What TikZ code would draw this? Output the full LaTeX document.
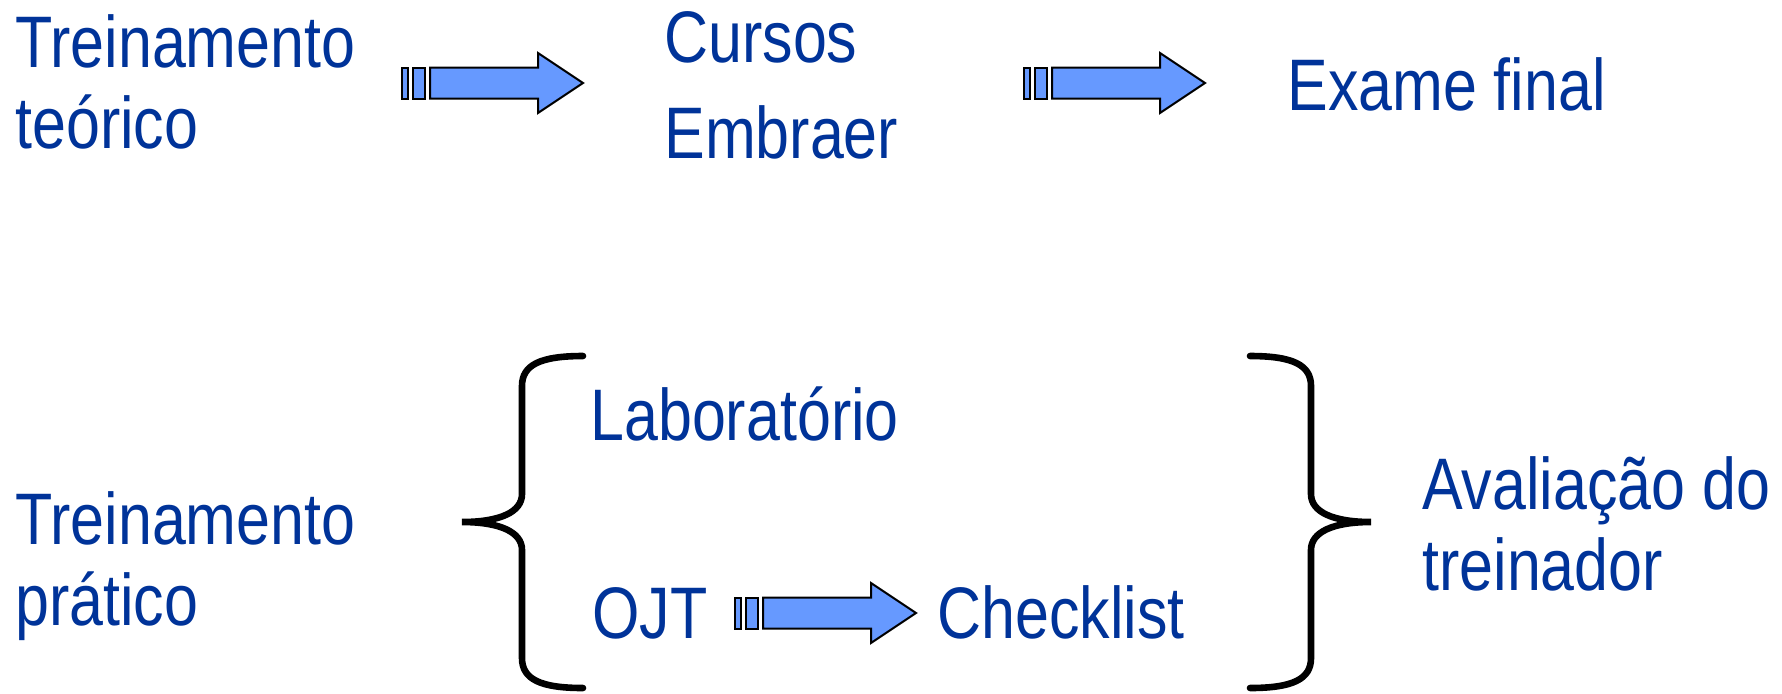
\documentclass[tikz,border=0pt]{standalone}
\usepackage{fontspec}
\setmainfont{Liberation Sans}[FakeStretch=0.835]
\usetikzlibrary{positioning}
\definecolor{textblue}{RGB}{0,51,153}
\definecolor{arrowblue}{RGB}{102,153,255}

% striped block arrow, starting at a named coordinate
\newcommand{\stripedarrow}[1]{%
  \begin{scope}[shift={(#1)}]
    \draw[arrowbody] (0,-15.5) rectangle (6,15.5);
    \draw[arrowbody] (11,-15.5) rectangle (23,15.5);
    \draw[arrowbody] (28,-15.5) -- (136,-15.5) -- (136,-30) -- (181,0) -- (136,30) -- (136,15.5) -- (28,15.5) -- cycle;
  \end{scope}}

\begin{document}
\begin{tikzpicture}[x=0.5pt, y=-0.5pt]
     		%define block styles
     		\tikzset{
     			blocktext/.style={anchor=base west, inner sep=0pt, align=left, text=textblue, font=\fontsize{36.5}{40.5}\selectfont},
     			arrowbody/.style={draw=black, line width=1pt, fill=arrowblue, line join=miter},
     			curly/.style={draw=black, line width=3.3pt, line cap=round},
     			}
     		\useasboundingbox (0,0) rectangle (1782,693);
     		%define nodes (base of the last line)
     		\node[blocktext] (theory) at (15,148) {Treinamento\\teórico};
     		\node[blocktext] (cursos) at (664,62) {Cursos};
     		\node[blocktext] (embraer) at ([yshift=-48pt]cursos.base west) {Embraer};
     		\node[blocktext] (exame) at (1287,110) {Exame final};
     		\node[blocktext] (practice) at (15,625) {Treinamento\\prático};
     		\node[blocktext] (lab) at (590,440) {Laboratório};
     		\node[blocktext] (ojt) at (592,638) {OJT};
     		\node[blocktext] (checklist) at (937,638) {Checklist};
     		\node[blocktext] (aval) at (1422,590) {Avaliação do\\treinador};
     		%define arrows
     		\coordinate (a1) at (402,83);
     		\coordinate (a2) at (1024,83);
     		\coordinate (a3) at (735,613);
     		\stripedarrow{a1}
     		\stripedarrow{a2}
     		\stripedarrow{a3}
     		%define braces
     		\draw[curly] (583,356) .. controls (540,356) and (522,365) .. (522,386) -- (522,494)
     		  .. controls (522,512) and (500,522) .. (462,522)
     		  .. controls (500,522) and (522,532) .. (522,550) -- (522,658)
     		  .. controls (522,679) and (540,688) .. (583,688);
     		\begin{scope}[shift={(1833,0)}, xscale=-1]
     		\draw[curly] (583,356) .. controls (540,356) and (522,365) .. (522,386) -- (522,494)
     		  .. controls (522,512) and (500,522) .. (462,522)
     		  .. controls (500,522) and (522,532) .. (522,550) -- (522,658)
     		  .. controls (522,679) and (540,688) .. (583,688);
     		\end{scope}

     	\end{tikzpicture}
\end{document}
